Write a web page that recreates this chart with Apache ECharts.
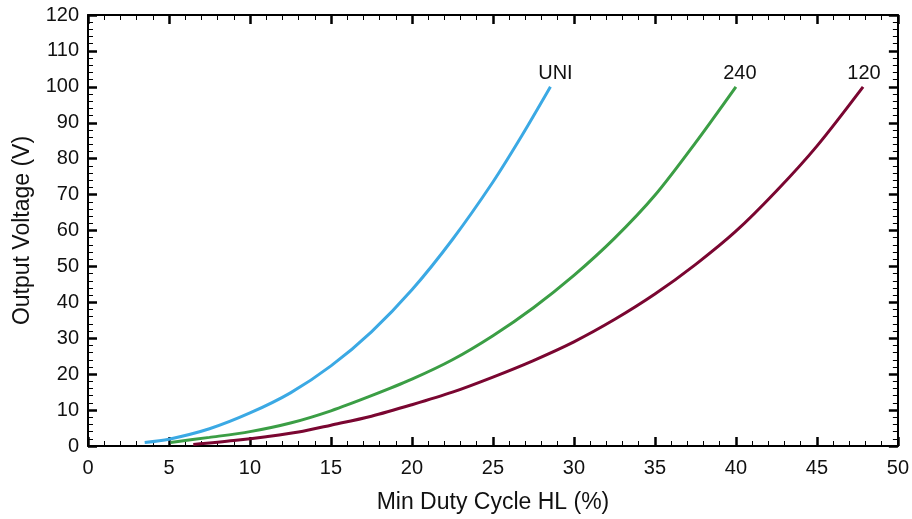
<!DOCTYPE html>
<html>
<head>
<meta charset="utf-8">
<script src="https://cdn.jsdelivr.net/npm/echarts@6/dist/echarts.min.js"></script>
<style>
  html, body { margin: 0; padding: 0; background: #fff; }
  #chart { width: 912px; height: 519px; }
</style>
</head>
<body>
<div id="chart"></div>
<script>
// Minimum duty cycle (%) vs. output voltage (V) for three input configurations
const uniDuty = [3.5, 5, 7.5, 10, 12.5, 15, 17.5, 20, 22.5, 25, 26.8, 28.55];
const uniVolt = [1.0, 1.9, 4.8, 9.2, 14.8, 22.3, 31.8, 43.5, 57.5, 73.5, 86.5, 100];

const d240Duty = [5.1, 7.5, 10, 12.5, 15, 17.5, 20, 22.5, 25, 27.5, 30, 32.5, 35, 37.5, 40];
const d240Volt = [1.0, 2.4, 4.0, 6.4, 9.8, 14.0, 18.6, 24.0, 30.7, 38.5, 47.5, 57.8, 69.8, 84.4, 100];

const d120Duty = [6.5, 9, 11, 13, 15, 17.5, 20, 22.5, 25, 27.5, 30, 32.5, 35, 37.5, 40, 42.5, 45, 47.85];
const d120Volt = [0.4, 1.5, 2.6, 3.9, 5.8, 8.3, 11.5, 15.0, 19.2, 23.8, 29.0, 35.2, 42.3, 50.5, 59.8, 71.0, 83.5, 100];

const seriesNames = ['UNI', '240', '120'];
const seriesColors = ['#3ba9e4', '#3b9e45', '#7a0631'];

const xTicks = { min: 0, max: 50, interval: 5 };
const yTicks = { min: 0, max: 120, interval: 10 };

const FONT = 'Liberation Sans, Arial, sans-serif';

function pairs(xs, ys) {
  return xs.map((x, i) => {
    const item = { value: [x, ys[i]] };
    if (i === xs.length - 1) {
      item.label = { show: true };
    }
    return item;
  });
}

function axisBase(extra) {
  return Object.assign({
    type: 'value',
    axisLine: { show: true, onZero: false, lineStyle: { color: '#000', width: 2 } },
    axisTick: { show: true, inside: true, length: 9, lineStyle: { color: '#000', width: 2.5 } },
    minorTick: { show: true, splitNumber: 5, length: 5, lineStyle: { color: '#000', width: 1 } },
    splitLine: { show: false },
    minorSplitLine: { show: false }
  }, extra);
}

const chart = echarts.init(document.getElementById('chart'), null, { renderer: 'canvas' });

const datasets = [
  pairs(uniDuty, uniVolt),
  pairs(d240Duty, d240Volt),
  pairs(d120Duty, d120Volt)
];

const labelOffsets = [[5, 0], [4, 0], [1, 0]];

chart.setOption({
  animation: false,
  backgroundColor: '#fff',
  grid: { left: 88, right: 12, top: 15, bottom: 72, containLabel: false },
  xAxis: [
    axisBase({
      position: 'bottom',
      min: xTicks.min, max: xTicks.max, interval: xTicks.interval,
      name: 'Min Duty Cycle HL (%)',
      nameLocation: 'middle',
      nameGap: 45,
      nameTextStyle: { fontSize: 23, color: '#111', fontFamily: FONT },
      axisLabel: { fontSize: 20, color: '#111', margin: 12, fontFamily: FONT }
    }),
    axisBase({
      position: 'top',
      min: xTicks.min, max: xTicks.max, interval: xTicks.interval,
      axisLabel: { show: false }
    })
  ],
  yAxis: [
    axisBase({
      position: 'left',
      min: yTicks.min, max: yTicks.max, interval: yTicks.interval,
      name: 'Output Voltage (V)',
      nameLocation: 'middle',
      nameGap: 54,
      nameTextStyle: { fontSize: 23, color: '#111', fontFamily: FONT },
      axisLabel: { fontSize: 20, color: '#111', margin: 9, fontFamily: FONT }
    }),
    axisBase({
      position: 'right',
      min: yTicks.min, max: yTicks.max, interval: yTicks.interval,
      axisLabel: { show: false }
    })
  ],
  series: seriesNames.map((name, i) => ({
    name: name,
    type: 'line',
    xAxisIndex: 0,
    yAxisIndex: 0,
    data: datasets[i],
    smooth: 0.3,
    symbol: 'circle',
    symbolSize: 0,
    showSymbol: true,
    lineStyle: { color: seriesColors[i], width: 3, cap: 'butt' },
    itemStyle: { color: seriesColors[i] },
    label: {
      show: false,
      position: 'top',
      distance: 3,
      offset: labelOffsets[i],
      formatter: () => name,
      fontSize: 20,
      color: '#111',
      fontFamily: FONT
    },
    emphasis: { disabled: true }
  }))
});
</script>
</body>
</html>
